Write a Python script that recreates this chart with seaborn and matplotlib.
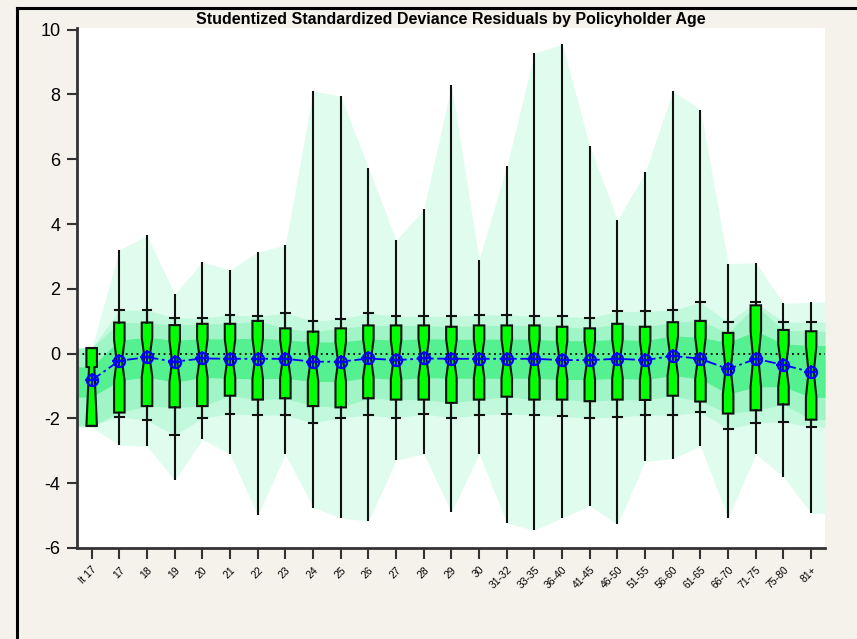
import numpy as np
import matplotlib
matplotlib.use("Agg")
import matplotlib.pyplot as plt
from matplotlib.lines import Line2D
import seaborn as sns

# DATA
# -----------------------------

ages = ["lt 17", "17", "18", "19", "20", "21", "22", "23", "24", "25", "26", "27", "28",
        "29", "30", "31-32", "33-35", "36-40", "41-45", "46-50", "51-55", "56-60",
        "61-65", "66-70", "71-75", "75-80", "81+"]

max_vals = [0.17, 3.20, 3.65, 1.83, 2.83, 2.58, 3.13, 3.35, 8.10, 7.95, 5.74, 3.50, 4.45,
            8.28, 2.90, 5.79, 9.27, 9.55, 6.41, 4.12, 5.59, 8.10, 7.53, 2.78, 2.80, 1.55, 1.59]
min_vals = [-2.27, -2.83, -2.86, -3.91, -2.65, -3.10, -4.99, -3.10, -4.75, -5.07, -5.17, -3.29, -3.10,
            -4.89, -3.10, -5.23, -5.45, -5.07, -4.70, -5.27, -3.33, -3.24, -2.86, -5.07, -3.10, -3.80, -4.93]

cap_hi = [0.17, 1.34, 1.34, 1.10, 1.10, 1.20, 1.15, 1.25, 1.01, 1.06, 1.25, 1.15, 1.15,
          1.15, 1.20, 1.20, 1.15, 1.15, 1.10, 1.30, 1.30, 1.34, 1.58, 0.97, 1.58, 0.97, 0.97]
cap_lo = [-2.23, -1.95, -2.06, -2.52, -1.99, -1.86, -1.90, -1.90, -2.14, -1.98, -1.90, -1.98, -1.86,
          -1.98, -1.90, -1.86, -1.90, -1.94, -1.99, -1.95, -1.90, -1.90, -1.81, -2.32, -2.14, -2.10, -2.27]

q3 = [0.17, 0.96, 0.96, 0.88, 0.92, 0.92, 1.01, 0.78, 0.68, 0.78, 0.87, 0.87, 0.87,
      0.83, 0.87, 0.87, 0.87, 0.83, 0.78, 0.92, 0.83, 0.97, 1.01, 0.64, 1.49, 0.73, 0.69]
q1 = [-2.23, -1.82, -1.62, -1.66, -1.62, -1.30, -1.42, -1.38, -1.62, -1.66, -1.38, -1.42, -1.42,
      -1.52, -1.42, -1.33, -1.42, -1.42, -1.47, -1.42, -1.43, -1.30, -1.48, -1.85, -1.75, -1.57, -2.04]

medians = [-0.42, -0.22, -0.11, -0.25, -0.15, -0.16, -0.16, -0.16, -0.25, -0.25, -0.15, -0.20, -0.15,
           -0.16, -0.16, -0.16, -0.16, -0.20, -0.20, -0.16, -0.20, -0.07, -0.16, -0.48, -0.16, -0.35, -0.57]
means = [-0.82, -0.22, -0.11, -0.25, -0.15, -0.16, -0.16, -0.16, -0.25, -0.25, -0.15, -0.20, -0.15,
         -0.16, -0.16, -0.16, -0.16, -0.20, -0.20, -0.16, -0.20, -0.07, -0.16, -0.48, -0.16, -0.35, -0.57]

notch_hi = [-0.41, 0.42, 0.50, 0.41, 0.46, 0.45, 0.48, 0.42, 0.36, 0.36, 0.45, 0.42, 0.46,
            0.44, 0.44, 0.45, 0.44, 0.40, 0.40, 0.44, 0.40, 0.55, 0.50, 0.34, 0.70, 0.30, 0.25]
notch_lo = [-2.23, -0.84, -0.72, -0.88, -0.74, -0.76, -0.78, -0.76, -0.86, -0.86, -0.74, -0.80, -0.74,
            -0.76, -0.76, -0.76, -0.76, -0.80, -0.80, -0.76, -0.80, -0.68, -0.78, -1.25, -1.03, -1.02, -1.35]
band_lo = [-1.34, -0.84, -0.72, -0.88, -0.74, -0.76, -0.78, -0.76, -0.86, -0.86, -0.74, -0.80, -0.74,
           -0.76, -0.76, -0.76, -0.76, -0.80, -0.80, -0.76, -0.80, -0.68, -0.78, -1.25, -1.03, -1.02, -1.35]

TITLE = "Studentized Standardized Deviance Residuals by Policyholder Age"

# PLOT
# -----------------------------

def edge(v):
    # repeat the end values so the bands reach the plot edges
    return np.concatenate([[v[0]], v, [v[-1]]])


def main():
    plt.rcParams["font.family"] = ["Liberation Sans", "DejaVu Sans"]

    fig = plt.figure(figsize=(8.57, 6.39), dpi=100, facecolor="#f5f2eb")
    ax = fig.add_axes([77 / 857, 1 - 548 / 639, 748 / 857, 520 / 639])
    ax.set_facecolor("white")

    pos = np.arange(len(ages))
    xlo, xhi = -0.53, 26.5
    band_x = np.concatenate([[xlo], pos, [xhi]])

    ax.fill_between(band_x, edge(min_vals), edge(max_vals), color="#e0fcee", lw=0, zorder=1)
    ax.fill_between(band_x, edge(cap_lo), edge(cap_hi), color="#c2f9dc", lw=0, zorder=1)
    ax.fill_between(band_x, edge(q1), edge(q3), color="#a0f5c6", lw=0, zorder=1)
    ax.fill_between(band_x, edge(band_lo), edge(notch_hi), color="#55f08f", lw=0, zorder=1)

    ax.axhline(0, color="black", ls=(0, (1, 2)), lw=1.3, zorder=2)
    ax.vlines(pos, min_vals, max_vals, color="#111111", lw=1.5, zorder=3)

    stats = []
    for i in range(len(ages)):
        stats.append(dict(med=medians[i], q1=q1[i], q3=q3[i], whislo=cap_lo[i], whishi=cap_hi[i],
                          cilo=notch_lo[i], cihi=notch_hi[i], fliers=[]))
    ax.bxp(stats, positions=pos, widths=0.38, shownotches=True, patch_artist=True,
           showfliers=False, capwidths=0.32, manage_ticks=False, zorder=4,
           boxprops=dict(facecolor="#00ff00", edgecolor="#111111", linewidth=1.5),
           whiskerprops=dict(color="#111111", linewidth=1.5),
           capprops=dict(color="#111111", linewidth=1.5),
           medianprops=dict(linewidth=0))

    sns.lineplot(x=pos, y=means, ax=ax, color="blue", lw=1.3, linestyle=(0, (6, 2, 1.5, 2)),
                 marker="o", markersize=8, markerfacecolor="none", markeredgecolor="blue",
                 markeredgewidth=1.6, zorder=6)
    sns.scatterplot(x=pos, y=means, ax=ax, marker="+", s=90, color="blue", linewidth=1.6, zorder=7)

    ax.set_xlim(xlo, xhi)
    ax.set_ylim(-6, 10.05)
    ax.set_xticks(pos)
    ax.set_xticklabels(ages, rotation=45, ha="right", rotation_mode="anchor", fontsize=7.5)
    ax.set_yticks(range(-6, 11, 2))
    ax.set_yticklabels([str(v) for v in range(-6, 11, 2)], fontsize=13)
    ax.tick_params(axis="y", length=7, width=1.5, color="#333333", pad=5)
    ax.tick_params(axis="x", length=8, width=1.5, color="#333333", pad=4)
    for s in ["top", "right"]:
        ax.spines[s].set_visible(False)
    for s in ["left", "bottom"]:
        ax.spines[s].set_linewidth(2)
        ax.spines[s].set_color("#333333")
    ax.set_xlabel("")
    ax.set_ylabel("")
    ax.set_title(TITLE, fontsize=11.5, fontweight="bold", pad=3)

    # outer frame, top and left only
    fig.add_artist(Line2D([17 / 857, 17 / 857], [0, 1 - 8 / 639], color="black", lw=2.2))
    fig.add_artist(Line2D([17 / 857, 1], [1 - 8 / 639, 1 - 8 / 639], color="black", lw=2.2))

    fig.savefig("out.png", dpi=100, facecolor=fig.get_facecolor())


if __name__ == "__main__":
    main()
